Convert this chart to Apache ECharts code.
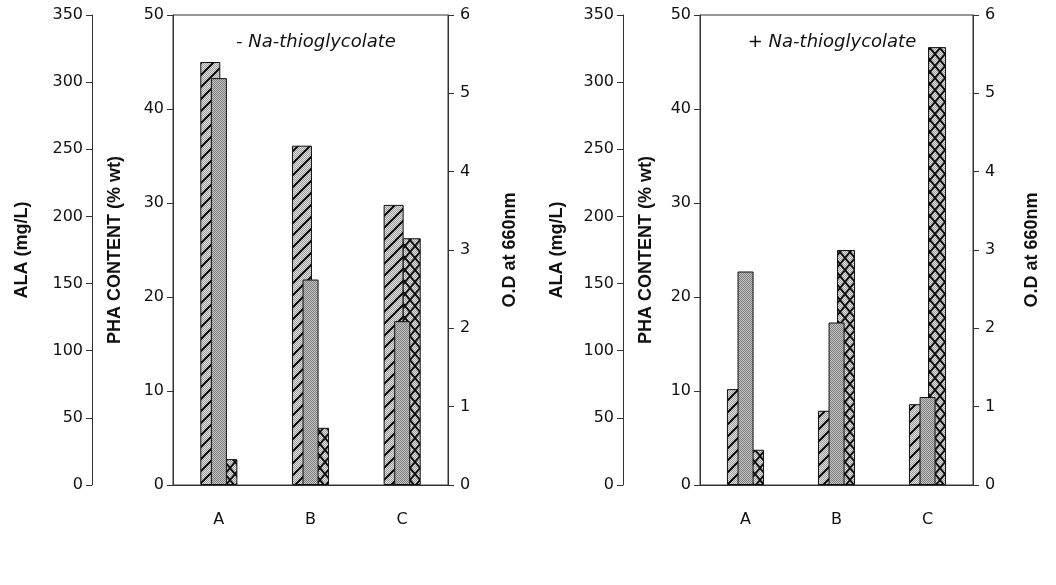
<!DOCTYPE html>
<html>
<head>
<meta charset="utf-8">
<script src="https://cdn.jsdelivr.net/npm/echarts@6/dist/echarts.min.js"></script>
<style>
  html, body { margin: 0; padding: 0; background: #fff; }
  #chart { width: 1056px; height: 585px; }
</style>
</head>
<body>
<div id="chart"></div>
<script>
var categories = ['A', 'B', 'C'];

// - Na-thioglycolate
var phaMinus = [45.0, 36.1, 29.8];
var alaMinus = [303, 153, 122];
var odMinus = [0.33, 0.73, 3.15];

// + Na-thioglycolate
var phaPlus = [10.2, 7.9, 8.6];
var alaPlus = [159, 121, 65.5];
var odPlus = [0.45, 3.0, 5.59];

var panelTitles = ['- Na-thioglycolate', '+ Na-thioglycolate'];

var FONT = 'DejaVu Sans, sans-serif';
var NAME_FONT = 'Liberation Sans, Arial, sans-serif';

// small canvas tiles used as fill patterns (halftone grey + hatching)
function makeTile(kind) {
    var w = kind === 'cross' ? 10 : 12;
    var h = 12;
    var c = document.createElement('canvas');
    c.width = w;
    c.height = h;
    var ctx = c.getContext('2d');
    ctx.fillStyle = kind === 'grey' ? '#c4c4c4' : '#e2e2e2';
    ctx.fillRect(0, 0, w, h);
    ctx.fillStyle = kind === 'grey' ? '#7e7e7e' : '#9c9c9c';
    for (var y = 0; y < h; y++) {
        for (var x = (y % 2); x < w; x += 2) {
            ctx.fillRect(x, y, 1, 1);
        }
    }
    ctx.strokeStyle = '#0a0a0a';
    if (kind === 'diag') {
        ctx.lineWidth = 2;
        ctx.beginPath();
        ctx.moveTo(-1, h + 1); ctx.lineTo(w + 1, -1);
        ctx.moveTo(-1, 1); ctx.lineTo(1, -1);
        ctx.moveTo(w - 1, h + 1); ctx.lineTo(w + 1, h - 1);
        ctx.stroke();
    } else if (kind === 'cross') {
        ctx.lineWidth = 1.8;
        ctx.beginPath();
        ctx.moveTo(0, 0); ctx.lineTo(w, h);
        ctx.moveTo(w, 0); ctx.lineTo(0, h);
        ctx.stroke();
    }
    return c;
}

var diagFill = { image: makeTile('diag'), repeat: 'repeat' };
var greyFill = { image: makeTile('grey'), repeat: 'repeat' };
var crossFill = { image: makeTile('cross'), repeat: 'repeat' };

var chart = echarts.init(document.getElementById('chart'));

var grids = [
    { left: 173, top: 15, width: 275, height: 470 },
    { left: 700, top: 15, width: 273, height: 470 }
];
var alaOffset = [81, 77];
var nameGaps = [{ ala: 61, pha: 49, od: 53 }, { ala: 57, pha: 45, od: 50 }];

function yAxisDef(gridIndex, pos, max, interval, name, gap, offset) {
    return {
        type: 'value',
        gridIndex: gridIndex,
        position: pos,
        offset: offset || 0,
        min: 0,
        max: max,
        interval: interval,
        name: name,
        nameLocation: 'middle',
        nameRotate: 90,
        nameGap: gap,
        nameTextStyle: { fontFamily: NAME_FONT, fontSize: 18, fontWeight: 'bold', color: '#111' },
        axisLine: { show: true, lineStyle: { color: '#333', width: 1 } },
        axisTick: { show: true, length: 6, lineStyle: { color: '#333' } },
        axisLabel: { fontFamily: FONT, fontSize: 16, color: '#111', margin: pos === 'right' ? 12 : 9 },
        splitLine: { show: false }
    };
}

var xAxes = [], yAxes = [], series = [], titles = [];
var panels = [
    { pha: phaMinus, ala: alaMinus, od: odMinus },
    { pha: phaPlus, ala: alaPlus, od: odPlus }
];

panels.forEach(function (p, i) {
    grids[i].show = true;
    grids[i].borderColor = '#333';
    grids[i].borderWidth = 1;
    xAxes.push({
        type: 'category',
        gridIndex: i,
        data: categories,
        axisLine: { lineStyle: { color: '#333' } },
        axisTick: { alignWithLabel: true, length: 5, lineStyle: { color: '#333' } },
        axisLabel: { fontFamily: FONT, fontSize: 16, color: '#111', margin: 27 }
    });
    var g = nameGaps[i];
    yAxes.push(yAxisDef(i, 'left', 50, 10, 'PHA CONTENT (% wt)', g.pha, 0));
    yAxes.push(yAxisDef(i, 'left', 350, 50, 'ALA (mg/L)', g.ala, alaOffset[i]));
    yAxes.push(yAxisDef(i, 'right', 6, 1, 'O.D at 660nm', g.od, 0));

    var base = i * 3;
    var border = { borderColor: '#111', borderWidth: 1 };
    series.push({
        type: 'bar', xAxisIndex: i, yAxisIndex: base, data: p.pha,
        barWidth: 20, barGap: '-47%',
        itemStyle: Object.assign({ color: diagFill }, border)
    });
    series.push({
        type: 'bar', xAxisIndex: i, yAxisIndex: base + 1, data: p.ala,
        barWidth: 16, barGap: '-47%', z: 3,
        itemStyle: Object.assign({ color: greyFill }, border)
    });
    series.push({
        type: 'bar', xAxisIndex: i, yAxisIndex: base + 2, data: p.od,
        barWidth: 18, barGap: '-47%',
        itemStyle: Object.assign({ color: crossFill }, border)
    });

    titles.push({
        text: panelTitles[i],
        left: i === 0 ? 311 : 827,
        top: 28,
        textAlign: 'center',
        textStyle: { fontFamily: FONT, fontSize: 18, fontStyle: 'italic', fontWeight: 'normal', color: '#111' }
    });
});

chart.setOption({
    animation: false,
    backgroundColor: '#fff',
    title: titles,
    grid: grids,
    xAxis: xAxes,
    yAxis: yAxes,
    series: series
});
</script>
</body>
</html>
